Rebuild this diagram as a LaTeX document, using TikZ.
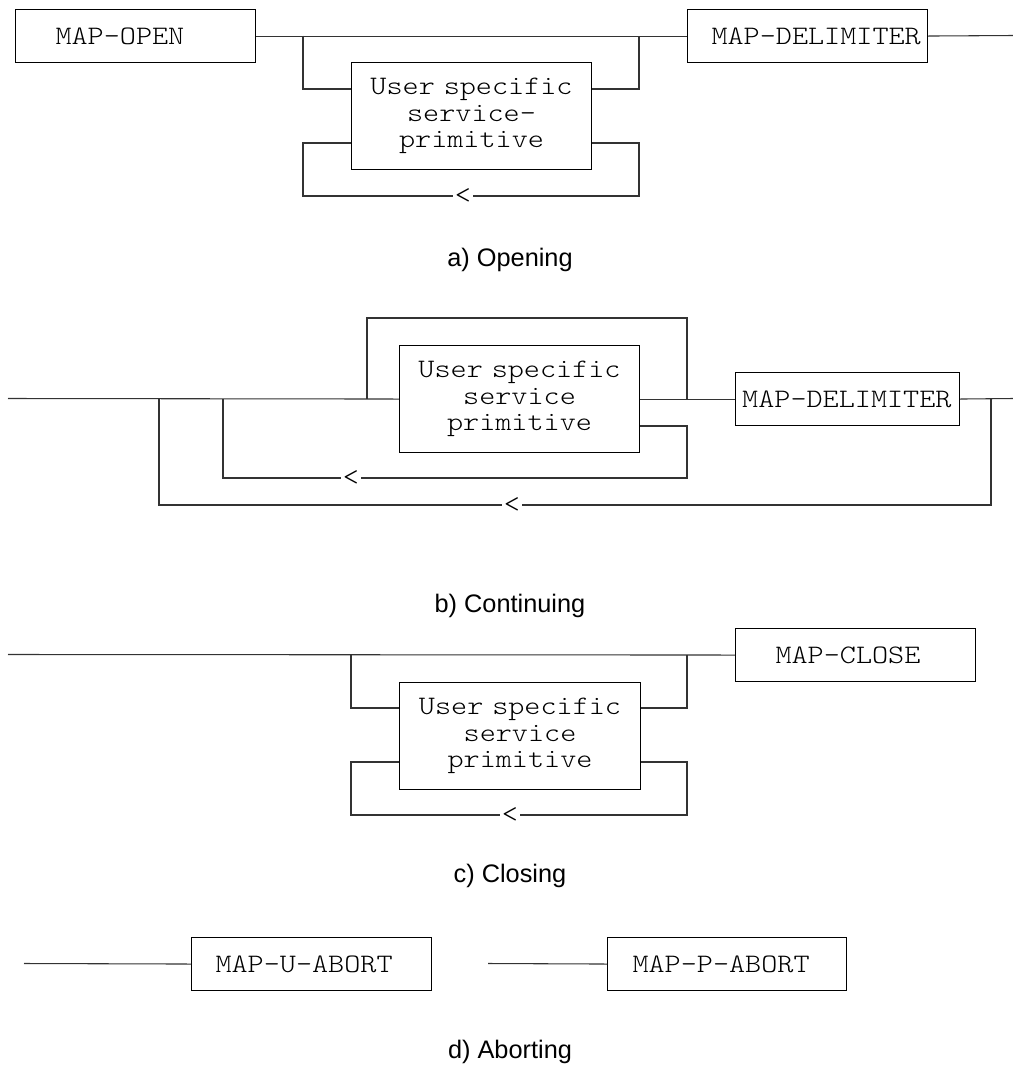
\documentclass[tikz,border=0pt]{standalone}
\usepackage{fontspec}
\usetikzlibrary{calc}
\newfontfamily\capfont{Liberation Sans}
\newfontfamily\primfam{lmmonolt10-regular.otf}[FakeStretch=1.15]
\newcommand\primfont{\primfam\fontsize{20}{19.9}\selectfont}
\begin{document}
\begin{tikzpicture}[x=0.75pt,y=-0.75pt,
  wire/.style={draw=black!80, line width=0.8pt},
  blk/.style={draw=black, line width=0.8pt, rectangle, inner sep=0pt,
    anchor=north west, minimum height=39.75pt, text width=#1, align=left,
    font=\primfont},
  prim/.style={draw=black, line width=0.8pt, rectangle, inner sep=0pt,
    anchor=north west, minimum height=80.25pt, text width=#1, align=center,
    font=\primfont},
  back/.style={fill=white, inner xsep=1.5pt, inner ysep=0pt, font=\primfont},
  captxt/.style={anchor=base, font=\capfont\fontsize{19}{23}\selectfont}]
\useasboundingbox (0,0) rectangle (1013,1068);

% ---------------- a) Opening ----------------
\node[blk=180pt] (open) at (15,9) {\hspace*{30pt}MAP-OPEN};
\node[blk=180pt] (dela) at (687,9) {\hspace*{18pt}MAP-DELIMITER};
\node[prim=180pt] (usra) at (351,62) {User specific\\service-\\primitive};
\coordinate (a1) at (303,35.5);
\coordinate (a2) at (639,35.5);
\coordinate (a3) at (639,196);
\coordinate (a4) at (303,196);
\coordinate (aend) at (1013,35.5);
\draw[wire] (open.east) -- (dela.west);
\draw[wire] (dela.east) -- (aend);
\draw[wire] (a1) |- ($(usra.north west)+(0,27)$);
\draw[wire] ($(usra.north east)+(0,27)$) -| (a2);
\draw[wire] ($(usra.north east)+(0,81)$) -| (a3) -- (a4) |- ($(usra.north west)+(0,81)$);
\node[back] (arra) at (463,196) {<};
\node[captxt] (capa) at (510,266) {a) Opening};

% ---------------- b) Continuing ----------------
\node[prim=180pt] (usrb) at (399,345) {User specific\\service\\primitive};
\node[blk=168pt] (delb) at (735,372) {\hspace*{5pt}MAP-DELIMITER};
\coordinate (bstart) at (8,398.5);
\coordinate (bend) at (1013,398.5);
\coordinate (b1) at (367,398.5);
\coordinate (b3) at (687,318);
\coordinate (b4) at (687,398.5);
\coordinate (b5) at (687,478);
\coordinate (b6) at (223,478);
\coordinate (b7) at (223,398.5);
\coordinate (b8) at (991,398.5);
\coordinate (b9) at (991,505);
\coordinate (b10) at (159,505);
\coordinate (b11) at (159,398.5);
\draw[wire] (bstart) -- (usrb.west);
\draw[wire] (usrb.east) -- (delb.west);
\draw[wire] (delb.east) -- (bend);
\draw[wire] (b1) |- (b3) -- (b4);
\draw[wire] ($(usrb.north east)+(0,81)$) -| (b5) -- (b6) -- (b7);
\draw[wire] (b8) -- (b9) -- (b10) -- (b11);
\node[back] (arrb1) at (351,478) {<};
\node[back] (arrb2) at (512,505) {<};
\node[captxt] (capb) at (510,612) {b) Continuing};

% ---------------- c) Closing ----------------
\node[prim=180.75pt] (usrc) at (399,682) {User specific\\service\\primitive};
\node[blk=180pt] (close) at (735,628) {\hspace*{30pt}MAP-CLOSE};
\coordinate (cstart) at (8,654.5);
\coordinate (c1) at (351,654.5);
\coordinate (c2) at (687,654.5);
\coordinate (c3) at (687,815);
\coordinate (c4) at (351,815);
\draw[wire] (cstart) -- (close.west);
\draw[wire] (c1) |- ($(usrc.north west)+(0,26)$);
\draw[wire] ($(usrc.north east)+(0,26)$) -| (c2);
\draw[wire] ($(usrc.north east)+(0,80)$) -| (c3) -- (c4) |- ($(usrc.north west)+(0,80)$);
\node[back] (arrc) at (510,815) {<};
\node[captxt] (capc) at (510,882) {c) Closing};

% ---------------- d) Aborting ----------------
\node[blk=180pt] (uab) at (191,937) {\hspace*{18pt}MAP-U-ABORT};
\node[blk=179.25pt] (pab) at (607,937) {\hspace*{18.75pt}MAP-P-ABORT};
\coordinate (d1) at (24,963.5);
\coordinate (d2) at (488,963.5);
\draw[wire] (d1) -- (uab.west);
\draw[wire] (d2) -- (pab.west);
\node[captxt] (capd) at (510,1058) {d) Aborting};
\end{tikzpicture}
\end{document}
